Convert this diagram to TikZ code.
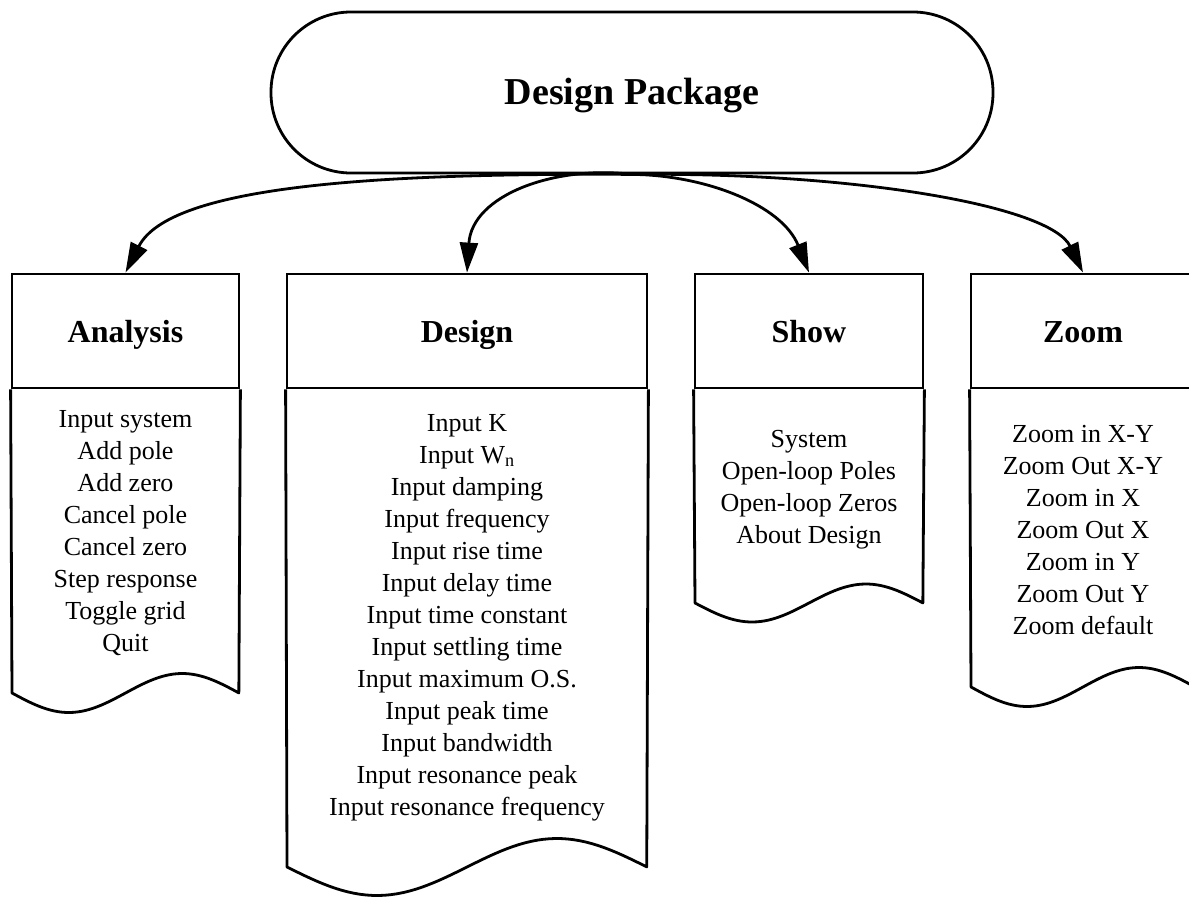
\documentclass[tikz,border=0pt]{standalone}
\usepackage{fontspec}
\setmainfont{Liberation Serif}
\usetikzlibrary{arrows.meta}
\begin{document}
\begin{tikzpicture}[x=1pt,y=-1pt,
  frame/.style={line width=2.8pt, line join=round},
  hdr/.style={draw, line width=2.8pt, inner sep=0pt, minimum height=114pt, text height=22pt, text depth=0pt, font=\bfseries\fontsize{32}{38}\selectfont},
  items/.style={anchor=north, align=center, inner sep=0pt, font=\fontsize{26}{32}\selectfont},
  conn/.style={-{Triangle[length=30pt,width=18pt]}, line width=2.8pt},
]
\useasboundingbox (0,0) rectangle (1189,897);
\node[draw, line width=2.8pt, rounded corners=80pt, minimum width=722pt, minimum height=161pt, inner sep=0pt, text height=23pt, text depth=0pt, font=\bfseries\fontsize{38}{44}\selectfont] (dp) at (632,92.5) {Design Package};

\node[hdr, minimum width=227pt] (ana) at (125.5,331) {Analysis};
\node[hdr, minimum width=360pt] (des) at (467,331) {Design};
\node[hdr, minimum width=228pt] (sho) at (809,331) {Show};
\node[hdr, minimum width=224pt] (zoo) at (1083,331) {Zoom};

\draw[frame] (ana.south west) -- (12,693) -- plot[domain=0:1,samples=60] ({12+227*\x},{693+19.5*sin(360*\x)}) -- (ana.south east);
\draw[frame] (des.south west) -- (287,867) -- plot[domain=0:1,samples=60] ({287+360*\x},{867+28.5*sin(360*\x)}) -- (des.south east);
\draw[frame] (sho.south west) -- (695,603) -- plot[domain=0:1,samples=60] ({695+228*\x},{603+19*sin(360*\x)}) -- (sho.south east);
\draw[frame] (zoo.south west) -- (971,687) -- plot[domain=0:1,samples=60] ({971+224*\x},{687+19.5*sin(360*\x)}) -- (zoo.south east);

\node[items] (anai) at (125.5,410) {Input system\\Add pole\\Add zero\\Cancel pole\\Cancel zero\\Step response\\Toggle grid\\Quit};
\node[items] (desi) at (467,414) {Input K\\Input W\textsubscript{n}\\Input damping\\Input frequency\\Input rise time\\Input delay time\\Input time constant\\Input settling time\\Input maximum O.S.\\Input peak time\\Input bandwidth\\Input resonance peak\\Input resonance frequency};
\node[items] (shoi) at (809,430) {System\\Open-loop Poles\\Open-loop Zeros\\About Design};
\node[items] (zooi) at (1083,425) {Zoom in X-Y\\Zoom Out X-Y\\Zoom in X\\Zoom Out X\\Zoom in Y\\Zoom Out Y\\Zoom default};

\draw[conn] (dp.south) .. controls (380,173) and (170,185) .. (ana.north);
\draw[conn] (dp.south) .. controls (555,165) and (472,195) .. (des.north);
\draw[conn] (dp.south) .. controls (705,175) and (782,205) .. (sho.north);
\draw[conn] (dp.south) .. controls (850,172) and (1050,205) .. (zoo.north);
\end{tikzpicture}
\end{document}
